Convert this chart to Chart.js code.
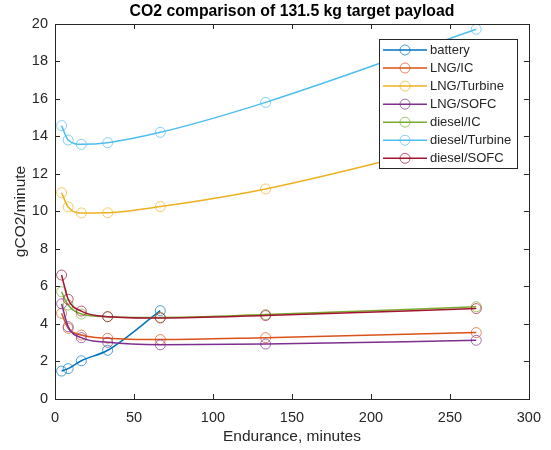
<!DOCTYPE html>
<html>
<head>
<meta charset="utf-8">
<title>CO2 comparison</title>
<script src="https://cdn.jsdelivr.net/npm/chart.js@4.4.1/dist/chart.umd.min.js"></script>
<style>
  body { margin: 0; background: #fff; }
</style>
</head>
<body>
<canvas id="co2chart" width="551" height="450"></canvas>
<script>
// endurance in minutes, shared by every series
var endurance = [4.17, 8.33, 16.67, 33.33, 66.67, 133.33, 266.67];

// gCO2 per minute
var battery       = [1.49, 1.62, 2.04, 2.60, 4.71];
var lngIC         = [4.57, 3.77, 3.41, 3.24, 3.17, 3.27, 3.54];
var lngTurbine    = [11.00, 10.24, 9.92, 9.93, 10.26, 11.20, 13.90];
var lngSOFC       = [5.08, 3.86, 3.27, 3.02, 2.89, 2.93, 3.13];
var dieselIC      = [5.72, 5.01, 4.53, 4.39, 4.35, 4.50, 4.92];
var dieselTurbine = [14.58, 13.81, 13.58, 13.67, 14.22, 15.82, 19.72];
var dieselSOFC    = [6.61, 5.32, 4.69, 4.39, 4.32, 4.45, 4.82];

var seriesNames = ['battery', 'LNG/IC', 'LNG/Turbine', 'LNG/SOFC', 'diesel/IC', 'diesel/Turbine', 'diesel/SOFC'];
var seriesValues = [battery, lngIC, lngTurbine, lngSOFC, dieselIC, dieselTurbine, dieselSOFC];

var xTicks = [0, 50, 100, 150, 200, 250, 300];
var yTicks = [0, 2, 4, 6, 8, 10, 12, 14, 16, 18, 20];

// matlab default colour order
var palette = ['#0072BD', '#D95319', '#EDB120', '#7E2F8E', '#77AC30', '#4DBEEE', '#A2142F'];

var FONT = "'Liberation Sans', Arial, Helvetica, sans-serif";
var INK = '#262626';

var datasets = [];
for (var i = 0; i < seriesNames.length; i++) {
	var pts = [];
	for (var j = 0; j < seriesValues[i].length; j++) {
		pts.push({ x: endurance[j], y: seriesValues[i][j] });
	}
	datasets.push({
		label: seriesNames[i],
		data: pts,
		borderColor: palette[i],
		backgroundColor: palette[i],
		borderWidth: 1.5,
		pointRadius: 5,
		pointBorderWidth: 1,
		pointBackgroundColor: 'rgba(0,0,0,0)',
		pointBorderColor: palette[i] + 'B0',
		cubicInterpolationMode: 'monotone',
		fill: false,
		order: seriesNames.length - i   // later series on top, like matlab
	});
}

// box round the axes with inward ticks
var axesBox = {
	id: 'axesBox',
	afterDatasetsDraw: function(chart) {
		var ctx = chart.ctx, a = chart.chartArea;
		var xs = chart.scales.x, ys = chart.scales.y;
		var tl = 5;
		ctx.save();
		ctx.strokeStyle = INK;
		ctx.lineWidth = 1;
		ctx.beginPath();
		xTicks.forEach(function(v) {
			var px = Math.round(xs.getPixelForValue(v)) + 0.5;
			ctx.moveTo(px, a.bottom); ctx.lineTo(px, a.bottom - tl);
			ctx.moveTo(px, a.top); ctx.lineTo(px, a.top + tl);
		});
		yTicks.forEach(function(v) {
			var py = Math.round(ys.getPixelForValue(v)) + 0.5;
			ctx.moveTo(a.left, py); ctx.lineTo(a.left + tl, py);
			ctx.moveTo(a.right, py); ctx.lineTo(a.right - tl, py);
		});
		ctx.stroke();
		ctx.strokeRect(Math.round(a.left) + 0.5, Math.round(a.top) + 0.5,
			Math.round(a.right - a.left), Math.round(a.bottom - a.top));
		ctx.restore();
	}
};

// legend box in the top right corner
var boxLegend = {
	id: 'boxLegend',
	afterDraw: function(chart) {
		var ctx = chart.ctx;
		var left = 379, top = 39, w = 138, h = 129, rowH = 18.05;
		ctx.save();
		ctx.fillStyle = '#fff';
		ctx.fillRect(left, top, w, h);
		ctx.strokeStyle = INK;
		ctx.lineWidth = 1;
		ctx.strokeRect(left + 0.5, top + 0.5, w, h);
		ctx.font = '13px ' + FONT;
		ctx.textBaseline = 'middle';
		chart.data.datasets.forEach(function(ds, k) {
			var cy = top + 11 + k * rowH;
			ctx.strokeStyle = ds.borderColor;
			ctx.lineWidth = 1.5;
			ctx.beginPath();
			ctx.moveTo(left + 4, cy); ctx.lineTo(left + 48, cy);
			ctx.stroke();
			ctx.lineWidth = 1;
			ctx.strokeStyle = ds.pointBorderColor;
			ctx.beginPath();
			ctx.arc(left + 26, cy, 5, 0, Math.PI * 2);
			ctx.stroke();
			ctx.fillStyle = INK;
			ctx.fillText(ds.label, left + 51, cy + 0.5);
		});
		ctx.restore();
	}
};

var chart = new Chart(document.getElementById('co2chart'), {
	type: 'line',
	data: { datasets: datasets },
	options: {
		responsive: false,
		animation: false,
		devicePixelRatio: 1,
		layout: { padding: { right: 20 } },
		plugins: {
			legend: { display: false },
			tooltip: { enabled: false },
			title: {
				display: true,
				fullSize: false,
				text: 'CO2 comparison of 131.5 kg target payload',
				color: '#000',
				font: { family: FONT, size: 15.8, weight: 'bold' },
				padding: { top: 2, bottom: 3 }
			}
		},
		scales: {
			x: {
				type: 'linear',
				min: 0,
				max: 300,
				grid: { display: false, drawTicks: false },
				border: { display: false },
				afterBuildTicks: function(s) { s.ticks = xTicks.map(function(v) { return { value: v }; }); },
				afterFit: function(s) { s.height = 51; },
				ticks: { color: INK, padding: 10, maxRotation: 0, font: { family: FONT, size: 14.5 } },
				title: {
					display: true,
					text: 'Endurance, minutes',
					color: INK,
					font: { family: FONT, size: 15.5 },
					padding: { top: 0, bottom: 4 }
				}
			},
			y: {
				type: 'linear',
				min: 0,
				max: 20,
				grid: { display: false, drawTicks: false },
				border: { display: false },
				afterBuildTicks: function(s) { s.ticks = yTicks.map(function(v) { return { value: v }; }); },
				afterFit: function(s) { s.width = 55; },
				ticks: { color: INK, padding: 7, font: { family: FONT, size: 14.5 } },
				title: {
					display: true,
					text: 'gCO2/minute',
					color: INK,
					font: { family: FONT, size: 15.5 },
					padding: { top: 11, bottom: 0 }
				}
			}
		}
	},
	plugins: [axesBox, boxLegend]
});
</script>
</body>
</html>
